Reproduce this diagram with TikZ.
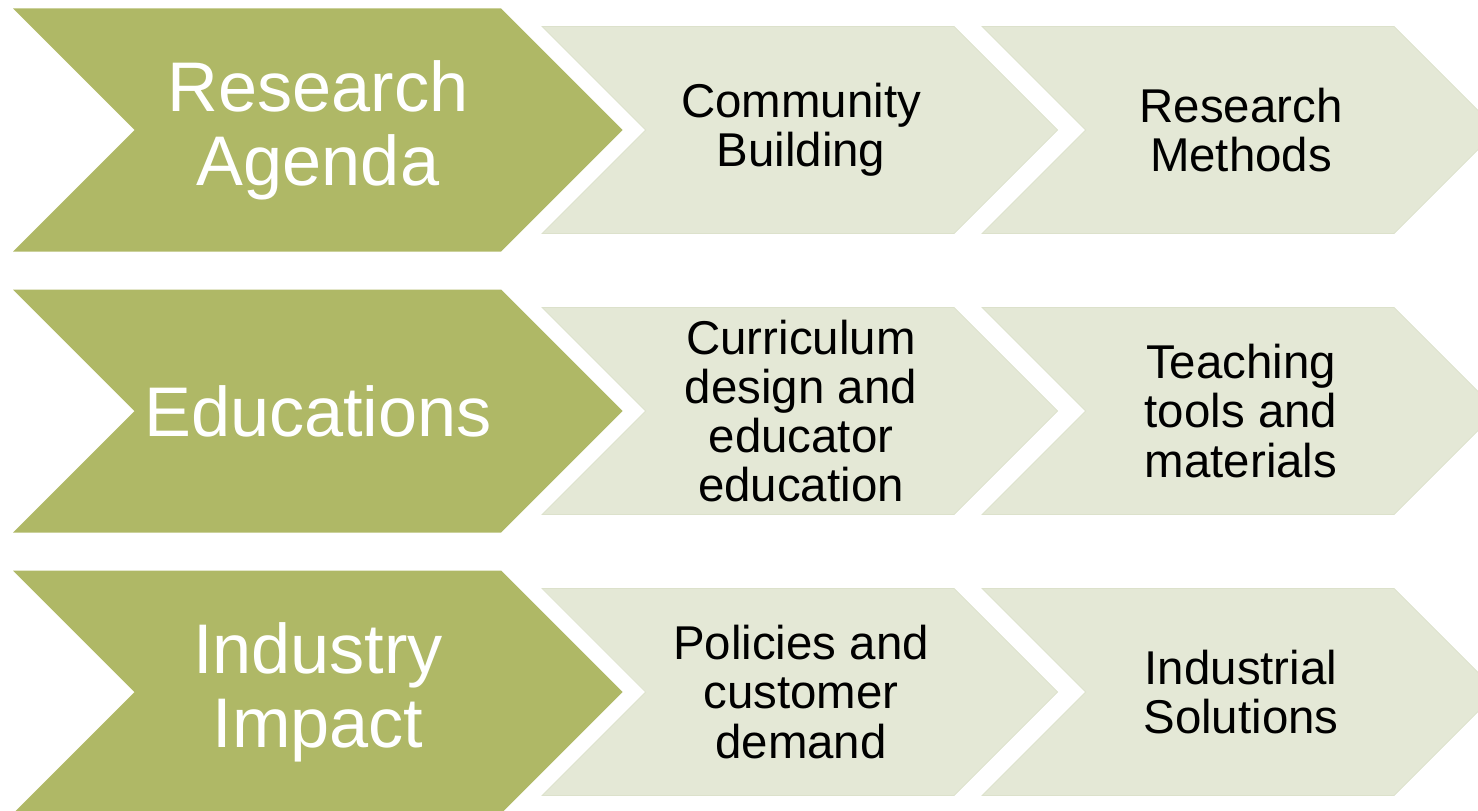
\documentclass[tikz,border=0pt]{standalone}
\usepackage{fontspec}
\setmainfont{Liberation Sans}
\usepackage{tikz}

\definecolor{olivegreen}{HTML}{AFB866}
\definecolor{palegreen}{HTML}{E4E8D6}
\definecolor{paleedge}{HTML}{DCE1CB}

\begin{document}
\begin{tikzpicture}[x=0.02cm, y=-0.02cm,
	bigtext/.style={text=white, align=center, font=\fontsize{40}{42}\selectfont},
	smalltext/.style={align=center, font=\fontsize{27}{28}\selectfont}]
	\useasboundingbox (0,0) rectangle (1478,811);
	\foreach \y/\r/\a/\b/\c in {
		130/res/{Research\\Agenda}/{Community\\Building}/{Research\\Methods},
		411/edu/{Educations}/{Curriculum\\design and\\educator\\education}/{Teaching\\tools and\\materials},
		692/ind/{Industry\\Impact}/{Policies and\\customer\\demand}/{Industrial\\Solutions}} {
		% big chevron
		\fill[olivegreen] (13,\y-121.5) -- (501,\y-121.5) -- (622.5,\y) -- (501,\y+121.5)
			-- (13,\y+121.5) -- (134.5,\y) -- cycle;
		% two pale chevrons
		\foreach \x in {542,982}
			\path[fill=palegreen, draw=paleedge, line width=0.4pt] (\x,\y-103.5) -- ++(412,0)
				-- ++(103.5,103.5) -- ++(-103.5,103.5) -- ++(-412,0) -- ++(103.5,-103.5) -- cycle;
		\node[bigtext] (\r-main) at (318,\y) {\a};
		\node[smalltext] (\r-one) at (801,\y) {\b};
		\node[smalltext] (\r-two) at (1241,\y) {\c};
	}
\end{tikzpicture}
\end{document}
